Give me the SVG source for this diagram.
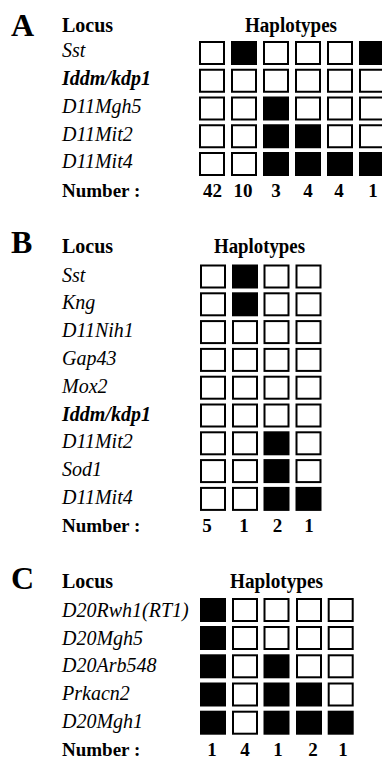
<svg xmlns="http://www.w3.org/2000/svg" width="382" height="760" viewBox="0 0 382 760">
<style>
text{fill:#000}
.pl{font-size:32px;font-weight:bold}
.hd{font-size:20px;font-weight:bold}
.lc{font-size:20px;font-style:italic}
.lcb{font-size:20px;font-style:italic;font-weight:bold}
.nm{font-size:19px;font-weight:bold}
.num{font-size:19px;font-weight:bold;text-anchor:middle}
.w{fill:#fff;stroke:#000;stroke-width:2}
.b{fill:#000;stroke:#000;stroke-width:2}
</style>
<rect width="382" height="760" fill="#fff"/>
<g font-family="'Liberation Serif', 'Times New Roman', Tinos, 'DejaVu Serif', serif">
<g id="panelA">
<text class="pl" x="11" y="36">A</text>
<text class="hd" x="62" y="32">Locus</text>
<text class="hd" x="245" y="32" textLength="92" lengthAdjust="spacingAndGlyphs">Haplotypes</text>
<g id="A-Sst"><text class="lc" x="62" y="57">Sst</text>
<rect class="w" x="200" y="42" width="24" height="22"/><rect class="b" x="232" y="42" width="24" height="22"/><rect class="w" x="264" y="42" width="24" height="22"/><rect class="w" x="296" y="42" width="24" height="22"/><rect class="w" x="328" y="42" width="24" height="22"/><rect class="b" x="360" y="42" width="24" height="22"/></g>
<g id="A-Iddm"><text class="lcb" x="62" y="85">Iddm/kdp1</text>
<rect class="w" x="200" y="69.75" width="24" height="22"/><rect class="w" x="232" y="69.75" width="24" height="22"/><rect class="w" x="264" y="69.75" width="24" height="22"/><rect class="w" x="296" y="69.75" width="24" height="22"/><rect class="w" x="328" y="69.75" width="24" height="22"/><rect class="w" x="360" y="69.75" width="24" height="22"/></g>
<g id="A-D11Mgh5"><text class="lc" x="62" y="112.5">D11Mgh5</text>
<rect class="w" x="200" y="97.5" width="24" height="22"/><rect class="w" x="232" y="97.5" width="24" height="22"/><rect class="b" x="264" y="97.5" width="24" height="22"/><rect class="w" x="296" y="97.5" width="24" height="22"/><rect class="w" x="328" y="97.5" width="24" height="22"/><rect class="w" x="360" y="97.5" width="24" height="22"/></g>
<g id="A-D11Mit2"><text class="lc" x="62" y="140.5">D11Mit2</text>
<rect class="w" x="200" y="125.25" width="24" height="22"/><rect class="w" x="232" y="125.25" width="24" height="22"/><rect class="b" x="264" y="125.25" width="24" height="22"/><rect class="b" x="296" y="125.25" width="24" height="22"/><rect class="w" x="328" y="125.25" width="24" height="22"/><rect class="w" x="360" y="125.25" width="24" height="22"/></g>
<g id="A-D11Mit4"><text class="lc" x="62" y="168">D11Mit4</text>
<rect class="w" x="200" y="153" width="24" height="22"/><rect class="w" x="232" y="153" width="24" height="22"/><rect class="b" x="264" y="153" width="24" height="22"/><rect class="b" x="296" y="153" width="24" height="22"/><rect class="b" x="328" y="153" width="24" height="22"/><rect class="b" x="360" y="153" width="24" height="22"/></g>
<g id="A-Number"><text class="nm" x="62" y="196.5">Number :</text>
<text class="num" x="212.5" y="196.5">42</text><text class="num" x="243" y="196.5">10</text><text class="num" x="276" y="196.5">3</text><text class="num" x="308" y="196.5">4</text><text class="num" x="339" y="196.5">4</text><text class="num" x="373" y="196.5">1</text></g>
</g>

<g id="panelB">
<text class="pl" x="11" y="253">B</text>
<text class="hd" x="62" y="253">Locus</text>
<text class="hd" x="214" y="253" textLength="91" lengthAdjust="spacingAndGlyphs">Haplotypes</text>
<g id="B-Sst"><text class="lc" x="62" y="281.5">Sst</text>
<rect class="w" x="201" y="265.5" width="24" height="22"/><rect class="b" x="233" y="265.5" width="24" height="22"/><rect class="w" x="264.5" y="265.5" width="24" height="22"/><rect class="w" x="296.5" y="265.5" width="24" height="22"/></g>
<g id="B-Kng"><text class="lc" x="62" y="309.3">Kng</text>
<rect class="w" x="201" y="293.3" width="24" height="22"/><rect class="b" x="233" y="293.3" width="24" height="22"/><rect class="w" x="264.5" y="293.3" width="24" height="22"/><rect class="w" x="296.5" y="293.3" width="24" height="22"/></g>
<g id="B-D11Nih1"><text class="lc" x="62" y="337.1">D11Nih1</text>
<rect class="w" x="201" y="321.1" width="24" height="22"/><rect class="w" x="233" y="321.1" width="24" height="22"/><rect class="w" x="264.5" y="321.1" width="24" height="22"/><rect class="w" x="296.5" y="321.1" width="24" height="22"/></g>
<g id="B-Gap43"><text class="lc" x="62" y="364.9">Gap43</text>
<rect class="w" x="201" y="348.9" width="24" height="22"/><rect class="w" x="233" y="348.9" width="24" height="22"/><rect class="w" x="264.5" y="348.9" width="24" height="22"/><rect class="w" x="296.5" y="348.9" width="24" height="22"/></g>
<g id="B-Mox2"><text class="lc" x="62" y="392.7">Mox2</text>
<rect class="w" x="201" y="376.7" width="24" height="22"/><rect class="w" x="233" y="376.7" width="24" height="22"/><rect class="w" x="264.5" y="376.7" width="24" height="22"/><rect class="w" x="296.5" y="376.7" width="24" height="22"/></g>
<g id="B-Iddm"><text class="lcb" x="62" y="420.5">Iddm/kdp1</text>
<rect class="w" x="201" y="404.5" width="24" height="22"/><rect class="w" x="233" y="404.5" width="24" height="22"/><rect class="w" x="264.5" y="404.5" width="24" height="22"/><rect class="w" x="296.5" y="404.5" width="24" height="22"/></g>
<g id="B-D11Mit2"><text class="lc" x="62" y="448.3">D11Mit2</text>
<rect class="w" x="201" y="432.3" width="24" height="22"/><rect class="w" x="233" y="432.3" width="24" height="22"/><rect class="b" x="264.5" y="432.3" width="24" height="22"/><rect class="w" x="296.5" y="432.3" width="24" height="22"/></g>
<g id="B-Sod1"><text class="lc" x="62" y="476.1">Sod1</text>
<rect class="w" x="201" y="460.1" width="24" height="22"/><rect class="w" x="233" y="460.1" width="24" height="22"/><rect class="b" x="264.5" y="460.1" width="24" height="22"/><rect class="w" x="296.5" y="460.1" width="24" height="22"/></g>
<g id="B-D11Mit4"><text class="lc" x="62" y="503.5">D11Mit4</text>
<rect class="w" x="201" y="487.9" width="24" height="22"/><rect class="w" x="233" y="487.9" width="24" height="22"/><rect class="b" x="264.5" y="487.9" width="24" height="22"/><rect class="b" x="296.5" y="487.9" width="24" height="22"/></g>
<g id="B-Number"><text class="nm" x="62" y="531.5">Number :</text>
<text class="num" x="207" y="531.5">5</text><text class="num" x="244" y="531.5">1</text><text class="num" x="277.5" y="531.5">2</text><text class="num" x="309" y="531.5">1</text></g>
</g>

<g id="panelC">
<text class="pl" x="11" y="589">C</text>
<text class="hd" x="62" y="588">Locus</text>
<text class="hd" x="230" y="588" textLength="93" lengthAdjust="spacingAndGlyphs">Haplotypes</text>
<g id="C-D20Rwh1"><text class="lc" x="62" y="616.7">D20Rwh1(RT1)</text>
<rect class="b" x="201" y="599" width="24" height="22"/><rect class="w" x="233" y="599" width="24" height="22"/><rect class="w" x="264.5" y="599" width="24" height="22"/><rect class="w" x="297" y="599" width="24" height="22"/><rect class="w" x="328.7" y="599" width="24" height="22"/></g>
<g id="C-D20Mgh5"><text class="lc" x="62" y="645">D20Mgh5</text>
<rect class="b" x="201" y="627" width="24" height="22"/><rect class="w" x="233" y="627" width="24" height="22"/><rect class="w" x="264.5" y="627" width="24" height="22"/><rect class="w" x="297" y="627" width="24" height="22"/><rect class="w" x="328.7" y="627" width="24" height="22"/></g>
<g id="C-D20Arb548"><text class="lc" x="62" y="672">D20Arb548</text>
<rect class="b" x="201" y="655.3" width="24" height="22"/><rect class="w" x="233" y="655.3" width="24" height="22"/><rect class="b" x="264.5" y="655.3" width="24" height="22"/><rect class="w" x="297" y="655.3" width="24" height="22"/><rect class="w" x="328.7" y="655.3" width="24" height="22"/></g>
<g id="C-Prkacn2"><text class="lc" x="62" y="700">Prkacn2</text>
<rect class="b" x="201" y="683.5" width="24" height="22"/><rect class="w" x="233" y="683.5" width="24" height="22"/><rect class="b" x="264.5" y="683.5" width="24" height="22"/><rect class="b" x="297" y="683.5" width="24" height="22"/><rect class="w" x="328.7" y="683.5" width="24" height="22"/></g>
<g id="C-D20Mgh1"><text class="lc" x="62" y="728.3">D20Mgh1</text>
<rect class="b" x="201" y="711.7" width="24" height="22"/><rect class="w" x="233" y="711.7" width="24" height="22"/><rect class="b" x="264.5" y="711.7" width="24" height="22"/><rect class="b" x="297" y="711.7" width="24" height="22"/><rect class="b" x="328.7" y="711.7" width="24" height="22"/></g>
<g id="C-Number"><text class="nm" x="62" y="756">Number :</text>
<text class="num" x="212" y="755.5">1</text><text class="num" x="245" y="755.5">4</text><text class="num" x="278" y="755.5">1</text><text class="num" x="313" y="755.5">2</text><text class="num" x="343" y="755.5">1</text></g>
</g>
</g>
</svg>
